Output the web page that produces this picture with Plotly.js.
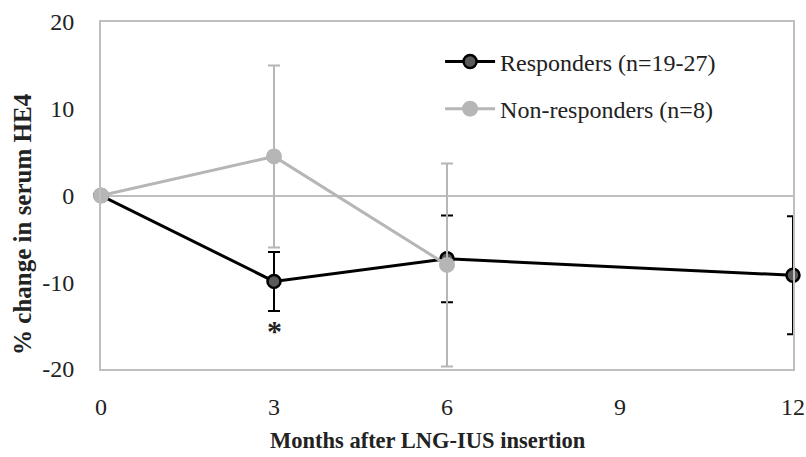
<!DOCTYPE html>
<html><head><meta charset="utf-8">
<script src="https://cdn.plot.ly/plotly-3.0.1.min.js"></script>
<style>html,body{margin:0;padding:0;background:#fff}#c{width:806px;height:457px}</style>
</head><body><div id="c"></div>
<script>
const months = [0, 3, 6, 12];
const respMean = [0, -9.9, -7.3, -9.2];
const respErr = [0, 3.4, 5.0, 6.8];
const nonMonths = [0, 3, 6];
const nonMean = [0, 4.5, -8.0];
const nonErr = [0, 10.5, 11.7];
const xTicks = [0, 3, 6, 9, 12];
const yTicks = [-20, -10, 0, 10, 20];
const xTitle = 'Months after LNG-IUS insertion';
const yTitle = '% change in serum HE4';

const font = "'Liberation Serif', 'DejaVu Serif', serif";

const traces = [
  {
    x: months, y: respMean, name: 'Responders (n=19-27)', type: 'scatter', mode: 'lines+markers',
    legendgroup: 'a', cliponaxis: false,
    line: {color: '#000000', width: 3},
    marker: {size: 13, color: '#595959', line: {color: '#000000', width: 2.5}},
    error_y: {type: 'data', array: respErr, visible: true, color: '#000000', thickness: 2, width: 6}
  },
  {
    x: nonMonths, y: nonMean, name: 'Non-responders (n=8)', type: 'scatter', mode: 'lines+markers',
    legendgroup: 'b', cliponaxis: false,
    line: {color: '#B6B6B6', width: 3},
    marker: {size: 16, color: '#B6B6B6'},
    error_y: {type: 'data', array: nonErr, visible: true, color: '#B6B6B6', thickness: 2, width: 6}
  }
];

const layout = {
  width: 806, height: 457,
  margin: {l: 101, r: 13, t: 22, b: 88},
  paper_bgcolor: '#fff', plot_bgcolor: '#fff',
  font: {family: font, size: 20, color: '#222'},
  showlegend: true,
  legend: {x: 0.49, y: 0.95, xanchor: 'left', yanchor: 'top', bgcolor: 'rgba(0,0,0,0)',
           traceorder: 'grouped', tracegroupgap: 13, font: {family: font, size: 24, color: '#222'},
           itemwidth: 50},
  xaxis: {
    range: [0, 12], tickvals: xTicks, ticktext: xTicks.map(String),
    showgrid: false, zeroline: false, showline: true, mirror: true, linecolor: '#BFBFBF', linewidth: 2,
    ticks: 'outside', ticklen: 15, tickcolor: 'rgba(0,0,0,0)',
    tickfont: {family: font, size: 24, color: '#222'}
  },
  yaxis: {
    range: [-20, 20], tickvals: yTicks, ticktext: yTicks.map(String),
    showgrid: false, zeroline: true, zerolinecolor: '#BFBFBF', zerolinewidth: 2,
    showline: true, mirror: true, linecolor: '#BFBFBF', linewidth: 2,
    ticks: 'outside', ticklen: 20, tickcolor: 'rgba(0,0,0,0)',
    tickfont: {family: font, size: 24, color: '#222'}
  },
  annotations: [
    {x: 3, y: -15.6, xref: 'x', yref: 'y', text: '<b>*</b>', showarrow: false,
     font: {family: font, size: 30, color: '#222'}},
    {x: 0.473, y: 0, xref: 'paper', yref: 'paper', yshift: -71, text: '<b>' + xTitle + '</b>',
     showarrow: false, xanchor: 'center', yanchor: 'middle',
     font: {family: font, size: 22.5, color: '#222'}},
    {x: 0, y: 0.418, xref: 'paper', yref: 'paper', xshift: -78, text: '<b>' + yTitle + '</b>',
     textangle: -90, showarrow: false, xanchor: 'center', yanchor: 'middle',
     font: {family: font, size: 25, color: '#222'}}
  ]
};

Plotly.newPlot('c', traces, layout, {displayModeBar: false, staticPlot: true});
</script>
</body></html>
